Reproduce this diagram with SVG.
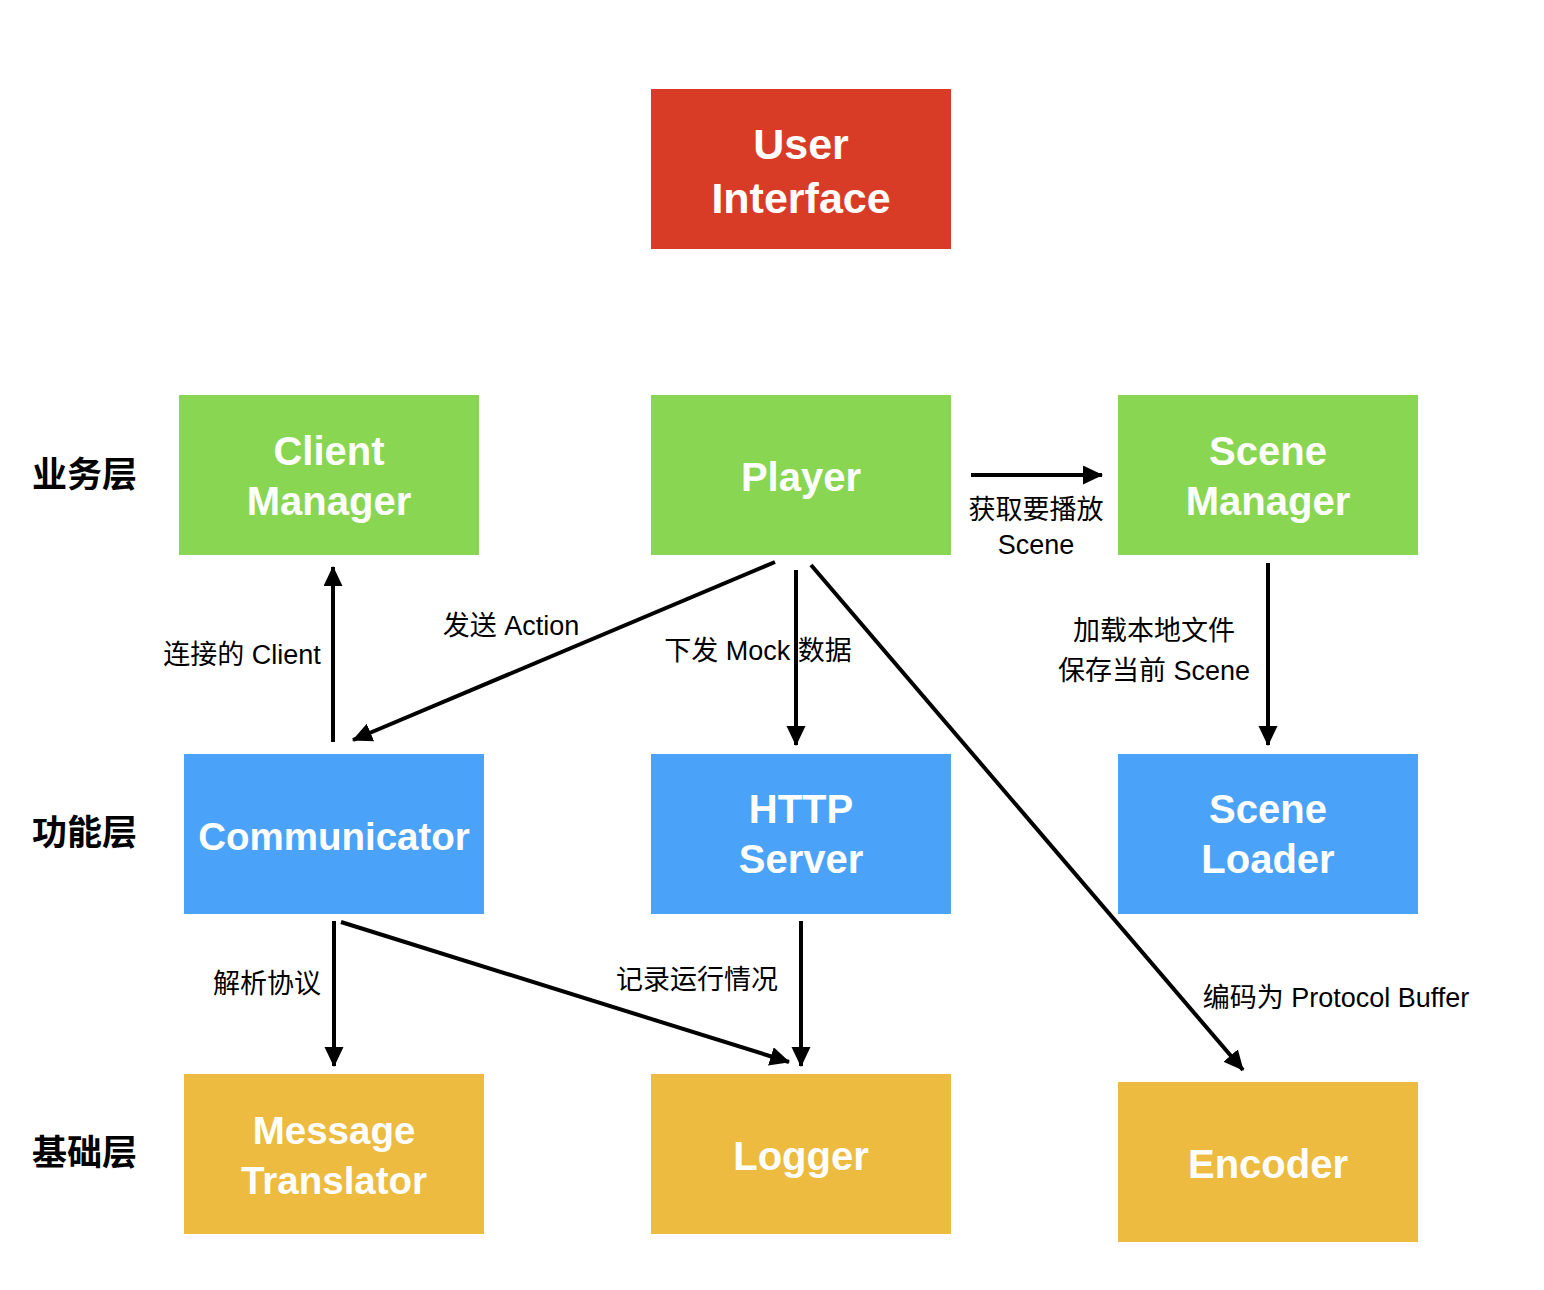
<svg xmlns="http://www.w3.org/2000/svg" width="1544" height="1290" viewBox="0 0 1544 1290">
<defs>
<style>
.node-text{font-family:"Liberation Sans",Arial,"Noto Sans CJK SC",sans-serif;font-weight:bold;font-size:40px;fill:#fff;text-anchor:middle}
.lbl{font-family:"Liberation Sans",Arial,"Noto Sans CJK SC",sans-serif;font-size:27px;fill:#000;text-anchor:middle}
.layer{font-family:"Liberation Sans","Noto Sans CJK SC",sans-serif;font-weight:bold;font-size:35px;fill:#000}
.red{fill:#D83C27}.green{fill:#88D651}.blue{fill:#4AA3F8}.yellow{fill:#EDBB40}
.edge{stroke:#000;stroke-width:4;fill:none;marker-end:url(#arrow)}
</style>
<marker id="arrow" markerUnits="userSpaceOnUse" markerWidth="22" markerHeight="20" refX="19" refY="9.5" orient="auto">
<path d="M0,0 L20,9.5 L0,19 z" fill="#000"/>
</marker>
</defs>
<rect width="1544" height="1290" fill="#fff"/>

<g id="layer-labels">
<text class="layer" x="32" y="487">业务层</text>
<text class="layer" x="32" y="845">功能层</text>
<text class="layer" x="32" y="1165">基础层</text>
</g>

<g id="user-interface">
<rect class="red" x="651" y="89" width="300" height="160"/>
<text class="node-text" style="font-size:43px" x="801" y="159">User</text>
<text class="node-text" style="font-size:43px" x="801" y="213">Interface</text>
</g>
<g id="client-manager">
<rect class="green" x="179" y="395" width="300" height="160"/>
<text class="node-text" x="329" y="465">Client</text>
<text class="node-text" x="329" y="515">Manager</text>
</g>
<g id="player">
<rect class="green" x="651" y="395" width="300" height="160"/>
<text class="node-text" x="801" y="491">Player</text>
</g>
<g id="scene-manager">
<rect class="green" x="1118" y="395" width="300" height="160"/>
<text class="node-text" x="1268" y="465">Scene</text>
<text class="node-text" x="1268" y="515">Manager</text>
</g>
<g id="communicator">
<rect class="blue" x="184" y="754" width="300" height="160"/>
<text class="node-text" style="font-size:38.5px" x="334" y="850">Communicator</text>
</g>
<g id="http-server">
<rect class="blue" x="651" y="754" width="300" height="160"/>
<text class="node-text" x="801" y="823">HTTP</text>
<text class="node-text" x="801" y="873">Server</text>
</g>
<g id="scene-loader">
<rect class="blue" x="1118" y="754" width="300" height="160"/>
<text class="node-text" x="1268" y="823">Scene</text>
<text class="node-text" x="1268" y="873">Loader</text>
</g>
<g id="message-translator">
<rect class="yellow" x="184" y="1074" width="300" height="160"/>
<text class="node-text" style="font-size:38.5px" x="334" y="1144">Message</text>
<text class="node-text" style="font-size:38.5px" x="334" y="1194">Translator</text>
</g>
<g id="logger">
<rect class="yellow" x="651" y="1074" width="300" height="160"/>
<text class="node-text" x="801" y="1170">Logger</text>
</g>
<g id="encoder">
<rect class="yellow" x="1118" y="1082" width="300" height="160"/>
<text class="node-text" x="1268" y="1178">Encoder</text>
</g>

<g id="connectors">
<line class="edge" x1="333" y1="742" x2="333" y2="567"/>
<line class="edge" x1="775" y1="562" x2="353" y2="740"/>
<line class="edge" x1="796" y1="570" x2="796" y2="745"/>
<line class="edge" x1="811" y1="565" x2="1243" y2="1070"/>
<line class="edge" x1="971" y1="475" x2="1102" y2="475"/>
<line class="edge" x1="1268" y1="563" x2="1268" y2="745"/>
<line class="edge" x1="334" y1="921" x2="334" y2="1066"/>
<line class="edge" x1="341" y1="922" x2="789" y2="1062"/>
<line class="edge" x1="801" y1="921" x2="801" y2="1066"/>
</g>

<g id="edge-labels">
<text class="lbl" x="242" y="664">连接的 Client</text>
<text class="lbl" x="511" y="635">发送 Action</text>
<text class="lbl" x="758" y="660">下发 Mock 数据</text>
<text class="lbl" x="1036" y="519">获取要播放</text>
<text class="lbl" x="1036" y="554">Scene</text>
<text class="lbl" x="1154" y="640">加载本地文件</text>
<text class="lbl" x="1154" y="680">保存当前 Scene</text>
<text class="lbl" x="267" y="993">解析协议</text>
<text class="lbl" x="697" y="989">记录运行情况</text>
<text class="lbl" x="1336" y="1007">编码为 Protocol Buffer</text>
</g>
</svg>
